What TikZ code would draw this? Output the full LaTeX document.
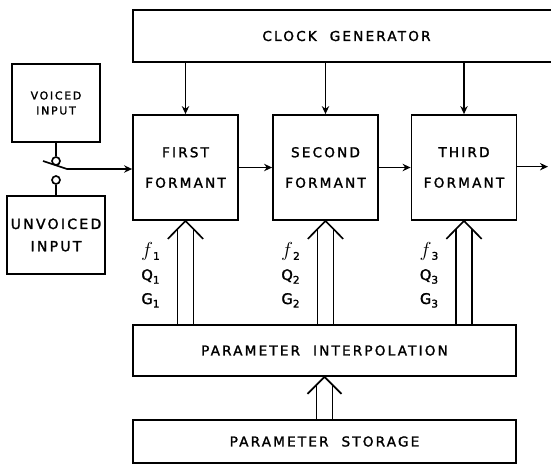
\documentclass[tikz,border=0pt]{standalone}
\usepackage{fontspec}
\setmainfont{DejaVu Sans}[LetterSpace=16, FakeBold=1.6]
\usetikzlibrary{positioning,arrows.meta,calc}
\newcommand{\lowsub}[1]{\raisebox{-0.45ex}{\fontsize{9}{9}\selectfont #1}}
\tikzset{
  flowarrow/.style={-{Stealth[length=2.4mm,width=2.2mm]}, line width=1.4pt},
  busline/.style={line width=1.4pt},
  block/.style={draw, line width=1.5pt, align=center, font=\fontsize{11.6}{26}\selectfont},
  srcbox/.style={block, minimum width=2.64cm, minimum height=2.34cm},
  formant/.style={block, minimum width=3.15cm, minimum height=3.15cm},
  widebox/.style={block, minimum width=11.49cm},
  contact/.style={circle, draw, line width=1.4pt, inner sep=0pt, minimum size=2.4mm, fill=white},
  parlabel/.style={align=center, font=\fontsize{12.5}{20.4}\selectfont}
}

\begin{document}
\begin{tikzpicture}
  \useasboundingbox (0,0) rectangle (16.53,-14.13);
  % clock
  \node[block, minimum width=12.81cm, minimum height=1.56cm] (clock) at (10.395,-1.08) {CLOCK\ \ GENERATOR};
  % excitation
  \node[srcbox, font=\fontsize{9.3}{12.8}\selectfont] (voiced) at (1.68,-3.09) {VOICED\\INPUT};
  \node[srcbox, font=\fontsize{12}{19}\selectfont] (unvoiced) at (1.68,-7.05) {UNVOICED\\INPUT};
  % formant chain
  \node[formant] (first) at (5.565,-5.025) {FIRST\\FORMANT};
  \node[formant] (second) at (9.765,-5.025) {SECOND\\FORMANT};
  \node[formant] (third) at (13.92,-5.025) {THIRD\\FORMANT};
  % parameters
  \node[widebox, minimum height=1.53cm] (interp) at (9.735,-10.515) {PARAMETER\ \ INTERPOLATION};
  \node[widebox, minimum height=1.29cm] (storage) at (9.735,-13.245) {PARAMETER\ \ STORAGE};

  % switch
  \node[contact] (vcon) at (1.68,-4.83) {};
  \node[contact] (ucon) at (1.68,-5.40) {};
  \draw[busline] (voiced) -- (vcon);
  \draw[busline] (ucon) -- (unvoiced);
  \coordinate (blade) at (1.29,-4.83);
  \coordinate (pivot) at (2.01,-5.07);
  \draw[flowarrow] (blade) -- (pivot) -- (pivot -| first.west);

  \draw[flowarrow] (first) -- (second);
  \draw[flowarrow] (second) -- (third);
  \coordinate (out) at (16.44,-5.0);
  \draw[flowarrow] (third.east |- out) -- (out);

  \foreach \f in {first,second,third}
    \draw[flowarrow] (\f.north |- clock.south) -- (\f.north);

  % parameter buses
  \foreach \f/\i in {first/1,second/2,third/3}{
    \draw[busline] ($(\f.south)+(-0.24,-0.24)$) -- ($(\f.south |- interp.north)+(-0.24,0)$);
    \draw[busline] ($(\f.south)+(0.24,-0.24)$) -- ($(\f.south |- interp.north)+(0.24,0)$);
    \draw[busline] ($(\f.south)+(-0.53,-0.54)$) -- (\f.south) -- ($(\f.south)+(0.53,-0.54)$);
    \node[parlabel] (par\i) at ($(\f.south)+(-1.05,-1.62)$) {{\LARGE$f$}\lowsub{\i}\\Q\lowsub{\i}\\G\lowsub{\i}};
  }
  \draw[busline] ($(storage.north)+(-0.24,0)$) -- ($(interp.south)+(-0.24,-0.24)$);
  \draw[busline] ($(storage.north)+(0.24,0)$) -- ($(interp.south)+(0.24,-0.24)$);
  \draw[busline] ($(interp.south)+(-0.51,-0.51)$) -- (interp.south) -- ($(interp.south)+(0.51,-0.51)$);
\end{tikzpicture}
\end{document}
